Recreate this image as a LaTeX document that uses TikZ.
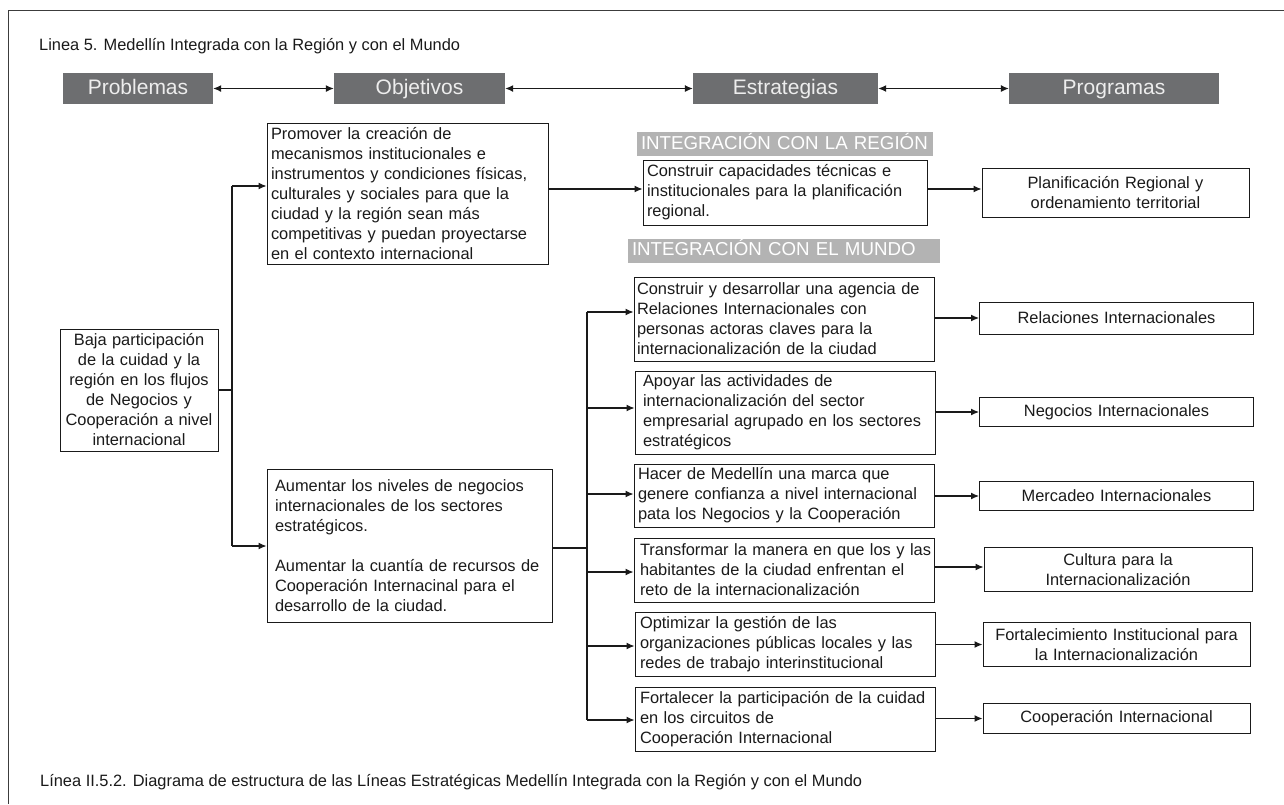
\documentclass[tikz,border=0pt]{standalone}
\usepackage{fontspec}
\setmainfont{Liberation Sans}
\usetikzlibrary{arrows.meta}
\definecolor{hdrgray}{HTML}{6D6E70}
\definecolor{hdrtext}{HTML}{EDEDED}
\definecolor{lblgray}{HTML}{B3B3B3}
\definecolor{ink}{HTML}{1A1A1A}
\tikzset{
  hdr/.style={fill=hdrgray, text=hdrtext, font=\fontsize{21}{24}\selectfont, minimum height=31pt, inner sep=0pt, text height=15pt, text depth=4pt},
  lbl/.style={fill=lblgray, text=white, font=\fontsize{18.7}{22}\selectfont, minimum height=24pt, inner xsep=4pt, inner ysep=0pt, align=left, text height=13.5pt, text depth=3.5pt},
  box/.style={draw=ink, line width=1pt, text=ink, inner xsep=4pt, inner ysep=2pt, font=\fontsize{16.4}{20}\selectfont, align=left},
  cbox/.style={box, align=center},
  arr/.style={draw=ink, line width=1.1pt, -{Latex[length=8pt,width=7pt]}},
  darr/.style={draw=ink, line width=1.1pt, {Latex[length=8pt,width=7pt]}-{Latex[length=8pt,width=7pt]}},
  wire/.style={draw=ink, line width=1.1pt},
  frame/.style={draw=ink!85, line width=1pt},
  plain/.style={text=ink, font=\fontsize{16.4}{20}\selectfont, inner sep=0pt, anchor=west}
}
\begin{document}
\begin{tikzpicture}[x=1pt,y=-1pt]
\useasboundingbox (0,0) rectangle (1284,804);
\fill[white] (0,0) rectangle (1284,804);
\draw[frame] (1284,10) -- (8.5,10) -- (8.5,804);

\node[plain] (title) at (39,46) {Linea 5. Medellín Integrada con la Región y con el Mundo};
\node[plain] (cap) at (40,782) {Línea II.5.2. Diagrama de estructura de las Líneas Estratégicas Medellín Integrada con la Región y con el Mundo};

% headers
\node[hdr, minimum width=150pt] (hP) at (138,88.5) {Problemas};
\node[hdr, minimum width=171pt] (hO) at (419.5,88.5) {Objetivos};
\node[hdr, minimum width=185pt] (hE) at (785.5,88.5) {Estrategias};
\node[hdr, minimum width=210pt] (hPr) at (1114,88.5) {Programas};
\draw[darr] (hP.east) -- (hO.west);
\draw[darr] (hO.east) -- (hE.west);
\draw[darr] (hE.east) -- (hPr.west);

% section labels
\node[lbl, text width=288pt] (lR) at (785,144) {INTEGRACIÓN CON LA REGIÓN};
\node[lbl, text width=304pt] (lM) at (784,250.5) {INTEGRACIÓN CON EL MUNDO};

% problem
\node[cbox, text width=150pt, minimum height=122pt] (pb) at (139,390) {Baja participación\\de la cuidad y la\\región en los flujos\\de Negocios y\\Cooperación a nivel\\internacional};

% objectives
\node[box, text width=273pt, minimum height=141pt] (o1) at (407.5,193.5) {Promover la creación de\\mecanismos institucionales e\\instrumentos y condiciones físicas,\\culturales y sociales para que la\\ciudad y la región sean más\\competitivas y puedan proyectarse\\en el contexto internacional};
\node[box, inner xsep=8pt, text width=269pt, minimum height=153pt] (o2) at (409.5,545.5) {Aumentar los niveles de negocios\\internacionales de los sectores\\estratégicos.\\[20pt]Aumentar la cuantía de recursos de\\Cooperación Internacinal para el\\desarrollo de la ciudad.};

% region strategy / program
\node[box, text width=276pt, minimum height=65pt] (sR) at (785,192.5) {Construir capacidades técnicas e\\institucionales para la planificación\\regional.};
\node[cbox, text width=259pt, minimum height=49pt] (pR) at (1115.5,192.5) {Planificación Regional y\\ordenamiento territorial};

% world strategies
\node[box, inner xsep=3pt, text width=294pt, minimum height=84pt] (s1) at (784,319) {Construir y desarrollar una agencia de\\Relaciones Internacionales con\\personas actoras claves para la\\internacionalización de la ciudad};
\node[box, inner xsep=8pt, text width=284pt, minimum height=83pt] (s2) at (785,412.5) {Apoyar las actividades de\\internacionalización del sector\\empresarial agrupado en los sectores\\estratégicos};
\node[box, inner xsep=4pt, text width=292pt, minimum height=63pt] (s3) at (784,495.5) {Hacer de Medellín una marca que\\genere confianza a nivel internacional\\pata los Negocios y la Cooperación};
\node[box, inner xsep=4pt, text width=292pt, minimum height=64pt] (s4) at (784,570) {\mbox{\hspace*{2pt}Transformar la manera en que los y las}\\\mbox{\hspace*{2pt}habitantes de la ciudad enfrentan el}\\\mbox{\hspace*{2pt}reto de la internacionalización}};
\node[box, inner xsep=5pt, text width=290pt, minimum height=64pt] (s5) at (785,644) {Optimizar la gestión de las\\organizaciones públicas locales y las\\redes de trabajo interinstitucional};
\node[box, inner xsep=5pt, text width=290pt, minimum height=64pt] (s6) at (785,719) {Fortalecer la participación de la cuidad\\en los circuitos de\\Cooperación Internacional};

% programs
\node[cbox, text width=266pt, minimum height=32pt] (p1) at (1116.5,318) {Relaciones Internacionales};
\node[cbox, text width=266pt, minimum height=29pt] (p2) at (1116.5,412) {Negocios Internacionales};
\node[cbox, text width=266pt, minimum height=29pt] (p3) at (1116.5,496) {Mercadeo Internacionales};
\node[cbox, text width=260pt, minimum height=44pt] (p4) at (1118,569.5) {Cultura para la\\Internacionalización};
\node[cbox, text width=259pt, minimum height=44pt] (p5) at (1116.5,644.5) {Fortalecimiento Institucional para\\la Internacionalización};
\node[cbox, text width=259pt, minimum height=30pt] (p6) at (1116.5,718.5) {Cooperación Internacional};

% left trunk
\coordinate (ja) at (232,186);
\coordinate (jb) at (232,546);
\draw[wire] (pb.east) -- (pb.east -| ja);
\draw[wire] (ja) -- (jb);
\draw[arr] (ja) -- (ja -| o1.west);
\draw[arr] (jb) -- (jb -| o2.west);

% region row
\coordinate (ry) at (600,189);
\draw[arr] (o1.east |- ry) -- (sR.west |- ry);
\draw[arr] (sR.east |- ry) -- (pR.west |- ry);

% world trunk
\coordinate (t1) at (587,312);
\coordinate (t2) at (587,408);
\coordinate (t3) at (587,494);
\coordinate (t4) at (587,572);
\coordinate (t5) at (587,646);
\coordinate (t6) at (587,720);
\coordinate (to) at (587,548);
\draw[wire] (o2.east |- to) -- (to);
\draw[wire] (t1) -- (t6);
\draw[arr] (t1) -- (t1 -| s1.west);
\draw[arr] (t2) -- (t2 -| s2.west);
\draw[arr] (t3) -- (t3 -| s3.west);
\draw[arr] (t4) -- (t4 -| s4.west);
\draw[arr] (t5) -- (t5 -| s5.west);
\draw[arr] (t6) -- (t6 -| s6.west);

% strategy -> program
\draw[arr] (p1.west -| s1.east) -- (p1.west);
\draw[arr] (p2.west -| s2.east) -- (p2.west);
\draw[arr] (p3.west -| s3.east) -- (p3.west);
\draw[arr] ([yshift=2.5pt]p4.west -| s4.east) -- ([yshift=2.5pt]p4.west);
\draw[arr] (p5.west -| s5.east) -- (p5.west);
\draw[arr] (p6.west -| s6.east) -- (p6.west);
\end{tikzpicture}
\end{document}
